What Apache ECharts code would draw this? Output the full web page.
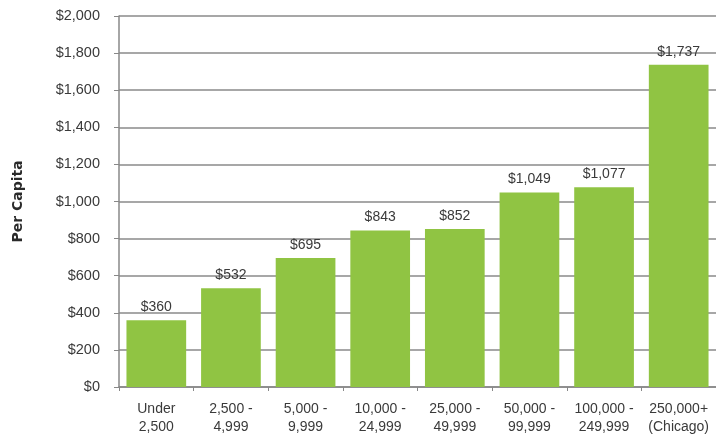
<!DOCTYPE html>
<html>
<head>
<meta charset="utf-8">
<style>
  html, body { margin: 0; padding: 0; background: #ffffff; }
  #chart { width: 716px; height: 444px; }
</style>
<script src="https://cdn.jsdelivr.net/npm/echarts@6/dist/echarts.min.js"></script>
</head>
<body>
<div id="chart"></div>
<script>
// Municipality population ranges
const categories = [
  'Under\n2,500', '2,500 -\n4,999', '5,000 -\n9,999', '10,000 -\n24,999',
  '25,000 -\n49,999', '50,000 -\n99,999', '100,000 -\n249,999', '250,000+\n(Chicago)'
];
// Spending per capita, dollars
const perCapita = [360, 532, 695, 843, 852, 1049, 1077, 1737];
const yTicks = { min: 0, max: 2000, interval: 200 };

const fmtDollar = v => '$' + v.toLocaleString('en-US');

const chart = echarts.init(document.getElementById('chart'));
chart.setOption({
  animation: false,
  backgroundColor: '#ffffff',
  textStyle: { fontFamily: 'Liberation Sans, Arial, sans-serif' },
  grid: { left: 119, right: -2, top: 16, bottom: 57, containLabel: false },
  xAxis: {
    type: 'category',
    data: categories,
    axisLine: { lineStyle: { color: '#888888', width: 1.5 } },
    axisTick: { show: true, length: 4, lineStyle: { color: '#888888' } },
    axisLabel: { color: '#3a3a3a', fontSize: 14, lineHeight: 18, margin: 13, interval: 0 }
  },
  yAxis: {
    type: 'value',
    min: yTicks.min, max: yTicks.max, interval: yTicks.interval,
    name: 'Per Capita',
    nameLocation: 'middle',
    nameGap: 94,
    nameRotate: 90,
    nameTextStyle: { color: '#2a2a2a', fontSize: 14, fontWeight: 'bold', fontFamily: 'DejaVu Sans, sans-serif' },
    axisLine: { show: true, lineStyle: { color: '#888888', width: 1.5 } },
    axisTick: { show: true, length: 5, lineStyle: { color: '#888888' } },
    axisLabel: { color: '#3a3a3a', fontSize: 14.5, margin: 19, formatter: fmtDollar },
    splitLine: { lineStyle: { color: '#8a8a8a', width: 1.5 } }
  },
  series: [{
    type: 'bar',
    data: perCapita,
    barCategoryGap: '20%',
    itemStyle: { color: '#90c443' },
    label: {
      show: true,
      position: 'top',
      distance: 6,
      color: '#3a3a3a',
      fontSize: 14,
      formatter: p => fmtDollar(p.value)
    }
  }]
});
</script>
</body>
</html>
